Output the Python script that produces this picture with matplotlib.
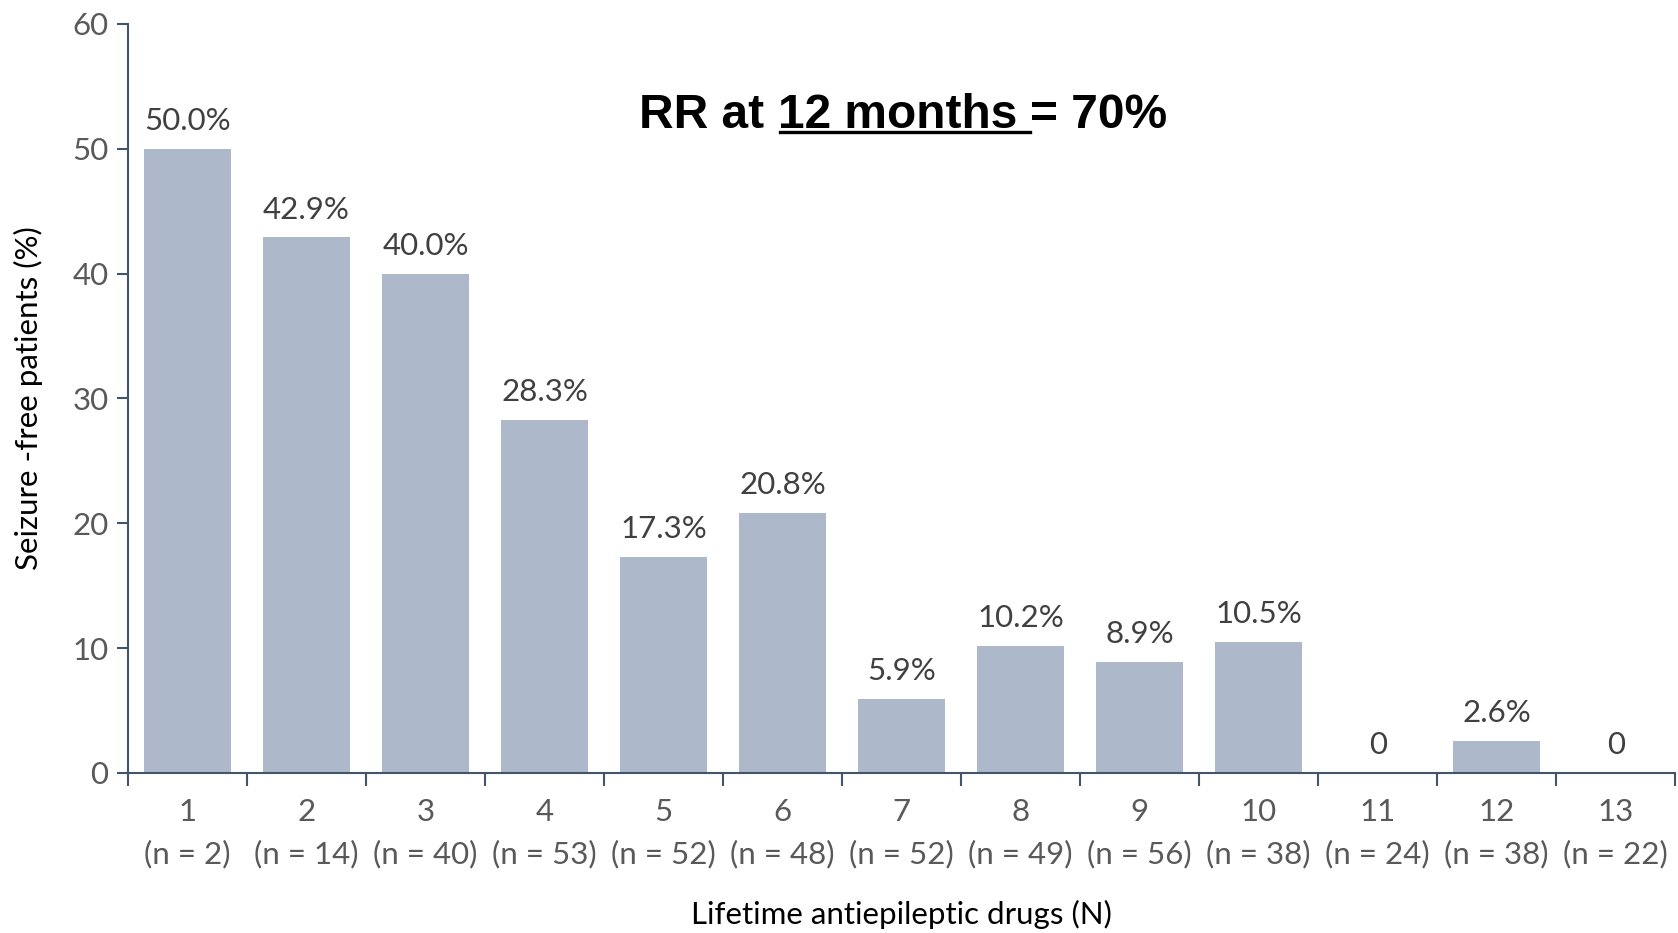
import numpy as np
import matplotlib; matplotlib.use("Agg")
import matplotlib.pyplot as plt
from matplotlib.lines import Line2D

drugs = [1, 2, 3, 4, 5, 6, 7, 8, 9, 10, 11, 12, 13]
n_pat = [2, 14, 40, 53, 52, 48, 52, 49, 56, 38, 24, 38, 22]
seizure_free = [50.0, 42.9, 40.0, 28.3, 17.3, 20.8, 5.9, 10.2, 8.9, 10.5, 0, 2.6, 0]

BAR = "#adb8ca"
SPINE = "#44546a"
FS = 22.5
plt.rcParams["font.family"] = ["Lato", "DejaVu Sans"]

fig = plt.figure(figsize=(16.78, 9.33), dpi=100)
ax = fig.add_axes([0.0763, 0.1715, 0.922, 0.8028])

x = np.arange(len(drugs))
ax.bar(x, seizure_free, width=0.73, color=BAR)
for xi, v in zip(x, seizure_free):
    lab = "0" if v == 0 else f"{v:.1f}%"
    ax.annotate(lab, (xi, v), xytext=(0, 10), textcoords="offset points",
                ha="center", va="bottom", fontsize=FS, color="#404040")

ax.set_xlim(-0.5, len(drugs) - 0.5)
ax.set_ylim(0, 60)
ax.set_yticks(range(0, 61, 10))
ax.set_xticks(x)
ax.set_xticklabels([f"{d}\n(n = {n})" for d, n in zip(drugs, n_pat)])
ax.set_xticks(np.arange(-0.5, len(drugs)), minor=True)
ax.tick_params(axis="x", which="major", length=0, pad=18, labelsize=FS, labelcolor="#595959")
ax.tick_params(axis="x", which="minor", length=9, width=1.5, color=SPINE, direction="out")
ax.tick_params(axis="y", length=8, width=1.5, color=SPINE, labelsize=FS, labelcolor="#595959", pad=6)
for t in ax.get_xticklabels():
    t.set_linespacing(1.6)

for s in ["top", "right"]:
    ax.spines[s].set_visible(False)
for s in ["left", "bottom"]:
    ax.spines[s].set_color(SPINE)
    ax.spines[s].set_linewidth(1.5)

# axis titles; the x one sits right at the bottom edge
fig.text(0.537, 0.02, "Lifetime antiepileptic drugs (N)", fontsize=FS, color="black",
         ha="center", va="center")
ax.set_ylabel("Seizure -free patients (%)", fontsize=FS, color="black", labelpad=21)

# headline, with the time window underlined
tf = dict(fontsize=34.5, fontweight="bold", family="Liberation Sans", color="black")
t1 = fig.text(0.381, 0.863, "RR at ", va="baseline", **tf)
t2 = ax.annotate("12 months ", xy=(1, 0), xycoords=t1, va="bottom", ha="left", **tf)
t3 = ax.annotate("= 70%", xy=(1, 0), xycoords=t2, va="bottom", ha="left", **tf)
fig.canvas.draw()
bb = t2.get_window_extent()
inv = fig.transFigure.inverted()
(x0, y0), (x1, _) = inv.transform([(bb.x0 + 2, bb.y0 + 6), (bb.x1, bb.y0)])
fig.add_artist(Line2D([x0, x1], [y0, y0], color="black", lw=2.4, transform=fig.transFigure))

fig.savefig("out.png", dpi=100)
